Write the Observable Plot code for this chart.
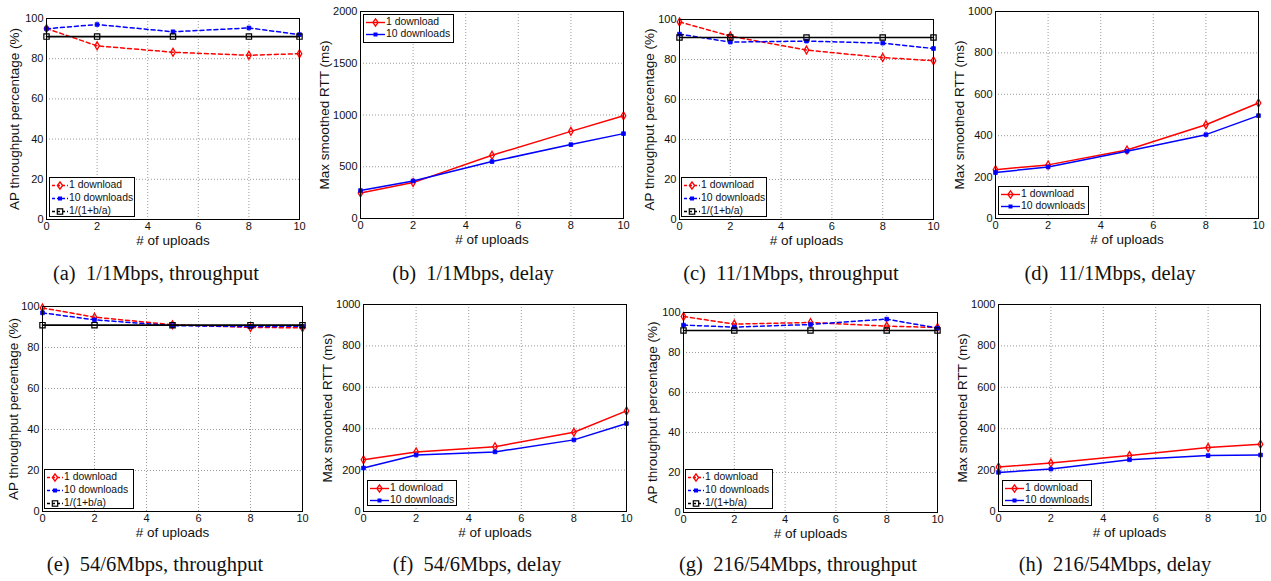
<!DOCTYPE html>
<html><head><meta charset="utf-8">
<script src="https://cdn.jsdelivr.net/npm/d3@7"></script>
<script src="https://cdn.jsdelivr.net/npm/@observablehq/plot@0.6"></script>
<style>
body{margin:0;background:#fff;}
#root{position:relative;width:1271px;height:581px;overflow:hidden;font-family:"Liberation Sans",Arial,sans-serif;}
.panel{position:absolute;}
.cap{position:absolute;font-family:"Liberation Serif","Times New Roman",serif;font-size:20.5px;white-space:pre;transform:translate(-50%,-50%);color:#111;}
.leg{position:absolute;border:1px solid #000;background:#fff;font-size:10.4px;color:#111;box-sizing:border-box;}
.leg .row{position:absolute;left:0;height:12px;line-height:12px;white-space:nowrap;}
.leg svg{position:absolute;left:1px;top:0;}
.leg span{position:absolute;top:0;}
</style></head>
<body><div id="root"></div>
<script>
// ---------- data ----------
const uploads = [0, 2, 5, 8, 10];
const xTicks = [0, 2, 4, 6, 8, 10];
const pctTicks = [0, 20, 40, 60, 80, 100];
const rttTicks2000 = [0, 500, 1000, 1500, 2000];
const rttTicks1000 = [0, 200, 400, 600, 800, 1000];
const xLabel = "# of uploads";
const tputLabel = "AP throughput percentage (%)";
const rttLabel = "Max smoothed RTT (ms)";
const seriesNames = ["1 download", "10 downloads", "1/(1+b/a)"];
const captions = ["(a)  1/1Mbps, throughput", "(b)  1/1Mbps, delay", "(c)  11/1Mbps, throughput", "(d)  11/1Mbps, delay",
                  "(e)  54/6Mbps, throughput", "(f)  54/6Mbps, delay", "(g)  216/54Mbps, throughput", "(h)  216/54Mbps, delay"];

// (a) 1/1Mbps throughput
const a_one = [95.0, 86.4, 83.2, 81.7, 82.5];
const a_ten = [94.9, 97.0, 93.4, 95.3, 92.0];
const a_bound = [91.0, 91.0, 91.0, 91.0, 91.0];
// (b) 1/1Mbps delay
const b_one = [247, 347, 611, 842, 993];
const b_ten = [270, 363, 550, 714, 820];
// (c) 11/1Mbps throughput
const c_one = [98.8, 91.7, 84.7, 81.0, 79.4];
const c_ten = [92.7, 88.7, 89.2, 88.2, 85.5];
const c_bound = [91.0, 91.0, 91.0, 91.0, 91.0];
// (d) 11/1Mbps delay
const d_one = [236, 259, 331, 453, 558];
const d_ten = [222, 249, 325, 405, 497];
// (e) 54/6Mbps throughput
const e_one = [99.3, 94.8, 91.1, 89.8, 89.6];
const e_ten = [96.9, 93.5, 90.7, 90.2, 90.4];
const e_bound = [90.9, 90.9, 90.9, 90.9, 90.9];
// (f) 54/6Mbps delay
const f_one = [250, 288, 313, 383, 486];
const f_ten = [210, 273, 288, 346, 425];
// (g) 216/54Mbps throughput
const g_one = [98.0, 94.2, 95.0, 93.2, 92.5];
const g_ten = [93.7, 92.7, 94.0, 96.7, 92.2];
const g_bound = [91.0, 91.0, 91.0, 91.0, 91.0];
// (h) 216/54Mbps delay
const h_one = [215, 234, 270, 309, 325];
const h_ten = [189, 205, 250, 270, 273];

// ---------- layout ----------
const panels = [
  {L:46, R:299, T:18, B:219, kind:"tput", ser:[a_one,a_ten,a_bound], yt:pctTicks, yl:31, cap:[156,273], leg:{dx:3, db:2, w:86, h:40}},
  {L:360, R:623, T:11, B:218, kind:"rtt", ser:[b_one,b_ten], yt:rttTicks2000, yl:35, cap:[473,273], leg:{dx:3, dt:3, w:91, h:29}},
  {L:679, R:933, T:19, B:219, kind:"tput", ser:[c_one,c_ten,c_bound], yt:pctTicks, yl:29, cap:[791,273], leg:{dx:2, db:2, w:86, h:40}},
  {L:995, R:1258, T:11, B:218, kind:"rtt", ser:[d_one,d_ten], yt:rttTicks1000, yl:35, cap:[1110,273], leg:{dx:3, db:3, w:91, h:29}},
  {L:42, R:302, T:306, B:511, kind:"tput", ser:[e_one,e_ten,e_bound], yt:pctTicks, yl:28, cap:[155,564], leg:{dx:2, db:2, w:90, h:40}},
  {L:363, R:626, T:304, B:511, kind:"rtt", ser:[f_one,f_ten], yt:rttTicks1000, yl:35, cap:[477,564], leg:{dx:4, db:5, w:90, h:26}},
  {L:683, R:937, T:312, B:512, kind:"tput", ser:[g_one,g_ten,g_bound], yt:pctTicks, yl:30, cap:[798,564], leg:{dx:2, db:3, w:88, h:40}},
  {L:998, R:1260, T:304, B:511, kind:"rtt", ser:[h_one,h_ten], yt:rttTicks1000, yl:35, cap:[1115,564], leg:{dx:4, db:5, w:90, h:26}}
];

const styles = [
  {color:"#ff0000", symbol:"diamond", r:2.4, fill:"none", sw:1.3},
  {color:"#0000ff", symbol:"square", r:2.1, fill:"#0000ff", sw:0.8},
  {color:"#000000", symbol:"square", r:3.0, fill:"none", sw:1.2}
];

const root = document.getElementById("root");
const ml = 52, mr = 14, mt = 8, mb = 34;
const fmt = d => String(d);

function swatch(i, dashed, w) {
  const s = styles[i];
  const cx = w / 2, cy = 6.5;
  const dash = dashed ? ' stroke-dasharray="3,2"' : '';
  let m = "";
  if (s.symbol === "diamond") m = `<polygon points="${cx},${cy-3.6} ${cx+2.6},${cy} ${cx},${cy+3.6} ${cx-2.6},${cy}" fill="none" stroke="${s.color}" stroke-width="1.3"/>`;
  else if (i === 1) m = `<rect x="${cx-2}" y="${cy-2}" width="4" height="4" fill="${s.color}"/>`;
  else m = `<rect x="${cx-2.7}" y="${cy-2.7}" width="5.4" height="5.4" fill="none" stroke="${s.color}" stroke-width="1.2"/>`;
  return `<svg width="${w}" height="13"><line x1="1" x2="${w-1}" y1="${cy}" y2="${cy}" stroke="${s.color}" stroke-width="1.4"${dash}/>${m}</svg>`;
}

panels.forEach((p, pi) => {
  const W = p.R - p.L, H = p.B - p.T;
  const dashed = p.kind === "tput";
  const rows = [];
  p.ser.forEach((vals, si) => vals.forEach((v, k) => rows.push({x: uploads[k], y: vals[k], s: si})));
  const yMax = p.yt[p.yt.length - 1];
  const grid = {stroke: "#9a9a9a", strokeOpacity: 1, strokeDasharray: "1,2"};
  const marks = [
    Plot.gridX(xTicks, grid),
    Plot.gridY(p.yt, grid),
    Plot.axisX(xTicks, {anchor: "bottom", tickSize: 0, tickPadding: 3, fontSize: 11, tickFormat: fmt, label: null}),
    Plot.axisY(p.yt, {anchor: "left", tickSize: 0, tickPadding: 3, fontSize: 11, tickFormat: fmt, label: null}),
    Plot.axisX([], {anchor: "bottom", tickSize: 0, fontSize: 13.5, label: xLabel, labelAnchor: "center", labelOffset: 25, labelArrow: "none"}),
    Plot.axisY([], {anchor: "left", tickSize: 0, fontSize: 13.5, label: p.kind === "tput" ? tputLabel : rttLabel, labelAnchor: "center", labelOffset: p.yl + 6, labelArrow: "none"}),
  ];
  p.ser.forEach((vals, si) => {
    const s = styles[si];
    const d = rows.filter(r => r.s === si);
    marks.push(Plot.line(d, {x: "x", y: "y", stroke: s.color, strokeWidth: si === 2 ? 1.6 : 1.5, strokeDasharray: (dashed && si < 2) ? "4,3" : null}));
    marks.push(Plot.dot(d, {x: "x", y: "y", symbol: () => s.symbol, r: s.r, stroke: s.color, fill: s.fill, strokeWidth: s.sw}));
  });
  marks.push(Plot.frame({stroke: "#000", strokeWidth: 1}));
  const chart = Plot.plot({
    width: W + ml + mr, height: H + mt + mb,
    marginLeft: ml, marginRight: mr, marginTop: mt, marginBottom: mb,
    x: {domain: [0, 10]}, y: {domain: [0, yMax]},
    style: {fontFamily: '"Liberation Sans", Arial, sans-serif', fontSize: "11px", color: "#111", background: "transparent", overflow: "visible"},
    marks
  });
  chart.classList.add("panel");
  chart.style.left = (p.L - ml) + "px";
  chart.style.top = (p.T - mt) + "px";
  root.appendChild(chart);

  // legend
  const n = p.ser.length;
  const lg = document.createElement("div");
  lg.className = "leg";
  lg.style.left = (p.L + p.leg.dx) + "px";
  lg.style.width = p.leg.w + "px";
  lg.style.height = p.leg.h + "px";
  if (p.leg.dt !== undefined) lg.style.top = (p.T + p.leg.dt) + "px";
  else lg.style.top = (p.B - p.leg.db - p.leg.h) + "px";
  const sw = dashed ? 18 : 21;
  const step = dashed ? 13 : 12;
  let html = "";
  for (let i = 0; i < n; i++) {
    html += `<div class="row" style="top:${1 + i * step}px">${swatch(i, dashed, sw)}<span style="left:${sw + 1}px">${seriesNames[i]}</span></div>`;
  }
  lg.innerHTML = html;
  root.appendChild(lg);

  const c = document.createElement("div");
  c.className = "cap";
  c.style.left = p.cap[0] + "px";
  c.style.top = p.cap[1] + "px";
  c.textContent = captions[pi];
  root.appendChild(c);
});
</script></body></html>
